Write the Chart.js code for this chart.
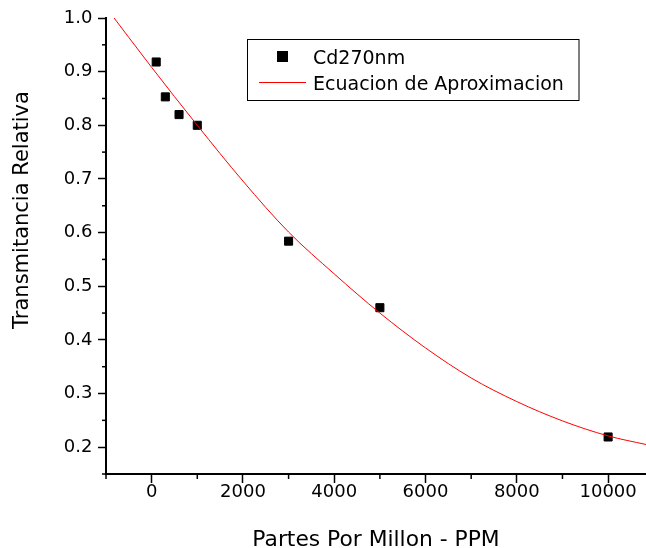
<!DOCTYPE html>
<html>
<head>
<meta charset="utf-8">
<script src="https://cdn.jsdelivr.net/npm/chart.js@4.4.0/dist/chart.umd.min.js"></script>
<style>
html,body{margin:0;padding:0;background:#fff;overflow:hidden;}
canvas{display:block;}
</style>
</head>
<body>
<canvas id="c" width="646" height="548" style="width:646px;height:548px"></canvas>
<script>
// ---- data ----
const seriesName = 'Cd270nm';
const fitName = 'Ecuacion de Aproximacion';
const xTitle = 'Partes Por Millon - PPM';
const yTitle = 'Transmitancia Relativa';

const ppm = [100, 300, 600, 1000, 3000, 5000, 10000];
const transmitancia = [0.918, 0.853, 0.820, 0.800, 0.584, 0.460, 0.219];

const fitPpm = [-1000, 0, 1000, 2000, 3000, 4000, 5000, 6000, 7000, 8000, 9000, 10000, 10830];
const fitTrans = [1.020, 0.908, 0.800, 0.696, 0.601, 0.523, 0.450, 0.385, 0.329, 0.285, 0.249, 0.221, 0.205];

const xMajorTicks = [0, 2000, 4000, 6000, 8000, 10000];
const xMinorTicks = [-1000, 1000, 3000, 5000, 7000, 9000];
const yMajorTicks = [0.2, 0.3, 0.4, 0.5, 0.6, 0.7, 0.8, 0.9, 1.0];
const yMinorTicks = [0.15, 0.25, 0.35, 0.45, 0.55, 0.65, 0.75, 0.85, 0.95];

const xMin = -1000, xMax = 10830, yMin = 0.15, yMax = 1.0;

const FONT = "'DejaVu Sans', sans-serif";

const extras = {
  id: 'extras',
  afterDraw(chart) {
    const ctx = chart.ctx, xs = chart.scales.x, ys = chart.scales.y;
    const ca = chart.chartArea;
    ctx.save();
    // minor ticks
    ctx.strokeStyle = '#000';
    ctx.lineWidth = 1.5;
    xMinorTicks.forEach(v => {
      const p = xs.getPixelForValue(v);
      ctx.beginPath(); ctx.moveTo(p, ca.bottom); ctx.lineTo(p, ca.bottom + 5); ctx.stroke();
    });
    yMinorTicks.forEach(v => {
      const p = ys.getPixelForValue(v);
      ctx.beginPath(); ctx.moveTo(ca.left, p); ctx.lineTo(ca.left - 4, p); ctx.stroke();
    });
    // y axis title
    ctx.save();
    ctx.translate(22.5, 210);
    ctx.rotate(-Math.PI / 2);
    ctx.font = '21px ' + FONT;
    ctx.fillStyle = '#000';
    ctx.textAlign = 'center';
    ctx.textBaseline = 'middle';
    ctx.fillText(yTitle, 0, 0);
    ctx.restore();
    // legend box
    ctx.lineWidth = 1;
    ctx.strokeStyle = '#000';
    ctx.strokeRect(247.5, 39.5, 331.5, 61);
    ctx.fillStyle = '#000';
    ctx.fillRect(277, 51, 11, 11);
    ctx.strokeStyle = '#ff0000';
    ctx.lineWidth = 1;
    ctx.beginPath(); ctx.moveTo(259, 82.5); ctx.lineTo(306, 82.5); ctx.stroke();
    ctx.font = '19px ' + FONT;
    ctx.textAlign = 'left';
    ctx.textBaseline = 'alphabetic';
    ctx.fillStyle = '#000';
    ctx.fillText(seriesName, 313, 64.3);
    ctx.fillText(fitName, 313, 90);
    ctx.restore();
  }
};

new Chart(document.getElementById('c'), {
  type: 'scatter',
  data: {
    datasets: [
      {
        label: fitName,
        data: fitPpm.map((x, i) => ({x, y: fitTrans[i]})),
        showLine: true,
        borderColor: '#ff0000',
        borderWidth: 1,
        pointRadius: 0,
        cubicInterpolationMode: 'monotone',
        order: 0
      },
      {
        label: seriesName,
        data: ppm.map((x, i) => ({x, y: transmitancia[i]})),
        showLine: false,
        pointStyle: 'rect',
        pointRadius: 5.7,
        pointBackgroundColor: '#000',
        pointBorderColor: '#000',
        pointBorderWidth: 1,
        order: 1
      }
    ]
  },
  options: {
    responsive: false,
    maintainAspectRatio: false,
    animation: false,
    layout: {autoPadding: false, padding: {top: 18, right: 0, bottom: 0, left: 0}},
    plugins: {legend: {display: false}, tooltip: {enabled: false}},
    scales: {
      x: {
        type: 'linear',
        min: xMin, max: xMax,
        afterBuildTicks: s => { s.ticks = xMajorTicks.map(v => ({value: v})); },
        afterFit: s => { s.height = 74; s.paddingLeft = 0; s.paddingRight = 0; },
        grid: {display: true, drawOnChartArea: false, drawTicks: true, tickLength: 9, tickWidth: 1.5, tickColor: '#000', color: '#000'},
        border: {display: true, color: '#000', width: 2},
        ticks: {color: '#000', font: {family: FONT, size: 18, lineHeight: 1}, padding: 0, maxRotation: 0, autoSkip: false,
          callback: v => String(v)},
        title: {display: true, text: xTitle, color: '#000', font: {family: FONT, size: 21.8, lineHeight: 1.2}, padding: {top: 0, bottom: -5.5}}
      },
      y: {
        type: 'linear',
        min: yMin, max: yMax,
        afterBuildTicks: s => { s.ticks = yMajorTicks.map(v => ({value: v})); },
        afterFit: s => { s.width = 106; s.paddingTop = 0; s.paddingBottom = 0; },
        grid: {display: true, drawOnChartArea: false, drawTicks: true, tickLength: 8, tickWidth: 1.5, tickColor: '#000', color: '#000'},
        border: {display: true, color: '#000', width: 2},
        ticks: {color: '#000', font: {family: FONT, size: 18}, padding: 5.5, autoSkip: false,
          callback: v => Number(v).toFixed(1)},
        title: {display: false}
      }
    }
  },
  plugins: [extras]
});
</script>
</body>
</html>
